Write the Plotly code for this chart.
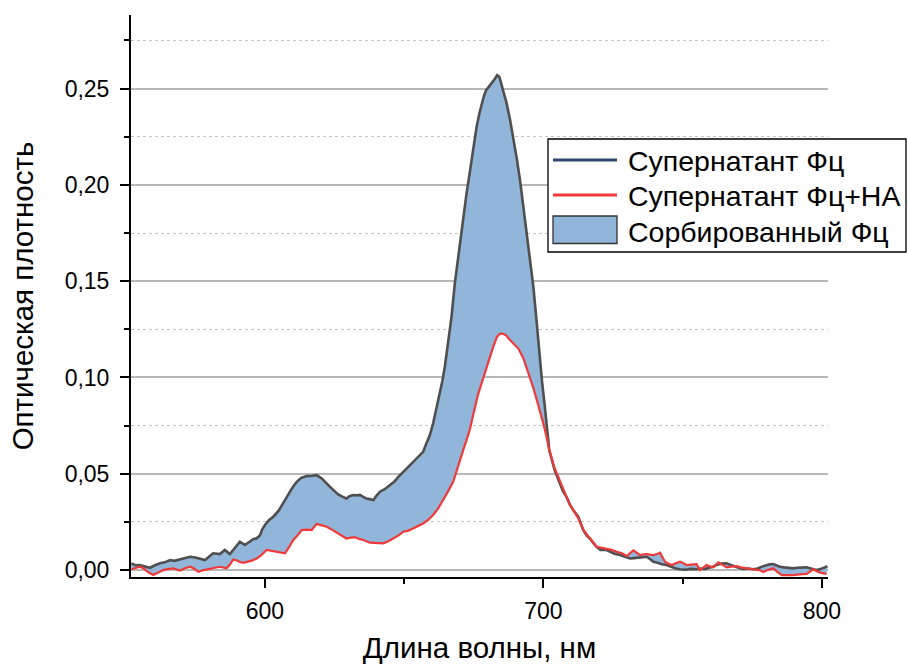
import plotly.graph_objects as go

# Supernatant Fc (dark curve)
wl_fc = [552, 553.5, 555, 557, 558.7, 560.5, 562.3, 564, 565.9, 567.5, 569.5, 571, 573.1, 575, 576.7, 578.5,
         580, 581.4, 583.8, 585.6, 587.4, 589, 591, 592.8, 594.5, 595.8, 597, 598.2, 599, 600, 601.5, 603,
         605, 606.6, 608, 609, 610.2, 611.4, 613, 615, 617, 618.6, 620.4, 622, 623.3, 625, 626.3, 628,
         629.3, 630.5, 631.7, 633, 634.1, 635.3, 636.5, 638, 638.9, 640, 641.3, 643, 644.9, 646.5, 648,
         649.7, 651.5, 653.2, 655, 656.8, 658, 659.2, 660.4, 661.6, 662.8, 663.7, 664.6, 665.8, 667, 668.2,
         669.4, 670.6, 671.5, 672.4, 673.3, 674.2, 675.1, 676, 677, 677.8, 678.6, 679.4, 680.5, 681.5, 682.5,
         683.4, 684.2, 685, 686, 686.8, 688, 689.2, 690.4, 691.6, 692.8, 694, 695.2, 696.4, 697.5, 698.5,
         699.5, 700.5, 701.3, 702.1, 704, 705.9, 707, 708.3, 709.5, 710.7, 712.5, 713.5, 714.3, 715.5,
         716.7, 718, 719.1, 720.5, 722.7, 724, 725.5, 727.5, 729, 731.1, 732.5, 734, 735.5, 737.1, 738.5,
         739.5, 741, 742.5, 744.2, 746, 747.5, 749, 751, 753, 755, 756.5, 758, 759.5, 760.9, 762.5, 764,
         765.7, 767.5, 769, 770.5, 772, 773.5, 775.3, 777, 778.5, 780.1, 781.3, 782.5, 783.7, 784.9,
         786.5, 788, 789.7, 791, 792.5, 794.5, 796, 798.1, 799.5, 801.1, 802]
od_fc = [0.0035, 0.0025, 0.0026, 0.0018, 0.0012, 0.0025, 0.0035, 0.004, 0.0052, 0.0048, 0.0055, 0.006, 0.0069,
         0.0065, 0.006, 0.0052, 0.007, 0.0087, 0.0083, 0.0104, 0.0083, 0.011, 0.0147, 0.013, 0.0145, 0.016,
         0.0165, 0.018, 0.021, 0.0234, 0.026, 0.0277, 0.031, 0.0346, 0.038, 0.0407, 0.0435, 0.0458, 0.0478,
         0.0488, 0.049, 0.0493, 0.0476, 0.0455, 0.0433, 0.041, 0.0393, 0.038, 0.0372, 0.0385, 0.039, 0.0388,
         0.039, 0.038, 0.0372, 0.0367, 0.0363, 0.0385, 0.0407, 0.042, 0.0441, 0.046, 0.0485, 0.051, 0.0535,
         0.056, 0.0588, 0.0614, 0.0658, 0.070, 0.0762, 0.084, 0.0917, 0.098, 0.1056, 0.1177, 0.1315, 0.149,
         0.1627, 0.178, 0.187, 0.1956, 0.204, 0.2129, 0.221, 0.230, 0.237, 0.2423, 0.246, 0.249, 0.251, 0.253,
         0.255, 0.257, 0.256, 0.2518, 0.247, 0.2423, 0.234, 0.225, 0.214, 0.2025, 0.189, 0.1748, 0.161, 0.147,
         0.130, 0.1125, 0.098, 0.085, 0.073, 0.0623, 0.052, 0.045, 0.041, 0.038, 0.034, 0.0312, 0.0277, 0.024,
         0.0208, 0.018, 0.0164, 0.014, 0.0121, 0.0105, 0.0104, 0.0095, 0.0085, 0.0078, 0.007, 0.006, 0.0062,
         0.0065, 0.0068, 0.0069, 0.0055, 0.0043, 0.0038, 0.003, 0.0026, 0.0015, 0.0008, 0.0004, 0.0002,
         0.0006, 0.0004, 0.0008, 0.0005, 0.0012, 0.0017, 0.0028, 0.0034, 0.0035, 0.0025, 0.0015, 0.0009,
         0.0006, 0.0008, 0.0004, 0.0008, 0.0018, 0.0026, 0.003, 0.0031, 0.0025, 0.0017, 0.0014, 0.0012,
         0.0009, 0.0012, 0.0013, 0.0014, 0.0008, 0.0, 0.0005, 0.0014, 0.002]

# Supernatant Fc + NA (red curve)
wl_fc_na = [552, 553.5, 555.1, 556.5, 558, 559.9, 561.5, 563.5, 565, 567.1, 568.5, 569.5, 571, 573.1, 574.5,
            576.1, 578, 580.3, 582, 583.8, 585, 586.2, 587.5, 588.6, 590, 591, 592.2, 594, 595.5, 597, 598.5,
            600.6, 602.5, 604.2, 605.8, 607.2, 608.7, 610.2, 611.7, 613.2, 615, 616.8, 617.7, 618.6, 620.4,
            622.2, 624, 625.7, 627.5, 629.3, 630.8, 632.3, 633.8, 635.3, 637.7, 640, 642.5, 644.3, 646.1, 648,
            649.7, 651.5, 653.2, 655, 656.8, 658.6, 660.4, 662.2, 664, 665.8, 667.6, 669, 670, 671.2, 672.5,
            673.6, 675, 676.5, 677.8, 679.3, 680.8, 682, 683.3, 684.2, 685, 686.5, 688, 689.5, 691, 692.8, 694,
            695.2, 696.5, 697.7, 698.7, 700, 701, 702.1, 704, 705.9, 707, 708.3, 709.5, 710.7, 712.5, 713.5,
            714.3, 716.7, 719.1, 721, 722.7, 724.5, 726.3, 728, 729.9, 731, 732.3, 733.5, 734.7, 736, 737.1,
            738.3, 739.5, 741, 741.9, 743, 743.7, 745, 746.1, 747.5, 749.1, 750.3, 751.4, 753, 755, 756.2,
            757.5, 758.6, 760, 761, 762.8, 764.3, 765.8, 767.5, 769.4, 771, 773, 775, 776.6, 778, 779, 780.5,
            782.6, 784, 785.6, 787.5, 789.7, 792, 794.5, 796, 796.9, 798, 799.4, 801.7]
od_fc_na = [0.0004, 0.0012, 0.0017, 0.0008, -0.001, -0.0026, -0.0015, 0.0, 0.0005, 0.0009, 0.0002, -0.0003,
            0.0008, 0.0017, 0.0008, -0.0009, 0.0, 0.0009, 0.0012, 0.0017, 0.0012, 0.0009, 0.003, 0.0055, 0.005,
            0.0042, 0.0038, 0.0045, 0.005, 0.006, 0.0075, 0.0104, 0.0098, 0.0095, 0.009, 0.0087, 0.012, 0.0156,
            0.018, 0.0208, 0.021, 0.0208, 0.0225, 0.0239, 0.0232, 0.0225, 0.021, 0.0194, 0.018, 0.0164, 0.0168,
            0.017, 0.0162, 0.0156, 0.0142, 0.014, 0.0139, 0.015, 0.0164, 0.018, 0.0199, 0.0205, 0.0216, 0.0228,
            0.0242, 0.026, 0.0286, 0.032, 0.0363, 0.041, 0.0458, 0.0525, 0.0575, 0.0623, 0.068, 0.073, 0.082,
            0.091, 0.097, 0.104, 0.110, 0.116, 0.121, 0.1225, 0.1229, 0.122, 0.1194, 0.117, 0.115, 0.11, 0.105,
            0.1, 0.094, 0.088, 0.083, 0.076, 0.07, 0.0623, 0.053, 0.046, 0.042, 0.038, 0.034, 0.031, 0.027,
            0.0235, 0.021, 0.0164, 0.0121, 0.0115, 0.011, 0.0105, 0.0095, 0.0088, 0.0073, 0.0085, 0.0102, 0.009,
            0.0078, 0.0082, 0.0083, 0.008, 0.0078, 0.0085, 0.009, 0.006, 0.0043, 0.0032, 0.0026, 0.0035, 0.0043,
            0.0035, 0.0026, 0.0028, 0.0031, 0.0, 0.0015, 0.0026, 0.0018, 0.0014, 0.004, 0.0025, 0.0014, 0.0018,
            0.002, 0.0014, 0.0009, 0.0006, 0.0004, -0.0002, -0.001, 0.0, 0.0009, -0.001, -0.0026, -0.0026,
            -0.0026, -0.0022, -0.002, -0.0005, 0.0004, -0.0005, -0.0013, -0.002]

y_ticks = [0.0, 0.05, 0.10, 0.15, 0.20, 0.25]
x_ticks = [600, 700, 800]

names = ["Супернатант Фц", "Супернатант Фц+НА", "Сорбированный Фц"]

FILL = "#92B5DA"
DARK = "#4f4f4f"
RED = "#F03A3A"
NAVY = "#2c4a6c"
FONT = "Liberation Sans, Arial, sans-serif"

W, H = 908, 664
ML, MR, MT, MB = 131, 80, 15, 87
PW, PH = W - ML - MR, H - MT - MB


def px(xp):
    return (xp - ML) / PW


def py(yp):
    return (H - MB - yp) / PH


fig = go.Figure()
# fill region between curves
fig.add_trace(go.Scatter(x=wl_fc_na, y=od_fc_na, mode="lines", line=dict(width=0, color=RED),
                         showlegend=False, hoverinfo="skip"))
fig.add_trace(go.Scatter(x=wl_fc, y=od_fc, mode="lines", line=dict(width=0, color=DARK),
                         fill="tonexty", fillcolor=FILL, showlegend=False, hoverinfo="skip"))
# lines on top
fig.add_trace(go.Scatter(x=wl_fc, y=od_fc, mode="lines", line=dict(width=2.6, color=DARK),
                         name=names[0], showlegend=False))
fig.add_trace(go.Scatter(x=wl_fc_na, y=od_fc_na, mode="lines", line=dict(width=2.2, color=RED),
                         name=names[1], showlegend=False))

# legend drawn as shapes + text
shapes = [
    dict(type="rect", xref="paper", yref="paper", x0=px(548), x1=px(906), y0=py(252), y1=py(139),
         line=dict(color="black", width=1.3), fillcolor="white", layer="above"),
    dict(type="line", xref="paper", yref="paper", x0=px(553), x1=px(617), y0=py(160), y1=py(160),
         line=dict(color=NAVY, width=3), layer="above"),
    dict(type="line", xref="paper", yref="paper", x0=px(553), x1=px(617), y0=py(195), y1=py(195),
         line=dict(color=RED, width=3), layer="above"),
    dict(type="rect", xref="paper", yref="paper", x0=px(553), x1=px(617), y0=py(243.5), y1=py(216),
         line=dict(color="#333333", width=1.3), fillcolor=FILL, layer="above"),
]
annotations = []
for name, yc in zip(names, [161, 196, 232]):
    annotations.append(dict(text=name, xref="paper", yref="paper", x=px(626), y=py(yc),
                            xanchor="left", yanchor="middle", showarrow=False,
                            font=dict(family=FONT, size=28.5, color="black")))

fig.update_layout(
    width=W, height=H,
    margin=dict(l=ML, r=MR, t=MT, b=MB, autoexpand=False),
    paper_bgcolor="white", plot_bgcolor="white",
    separators=", ",
    font=dict(family=FONT, size=23, color="black"),
    showlegend=False,
    shapes=shapes,
    annotations=annotations,
)

fig.update_xaxes(
    range=[551.9, 802.2], tickvals=x_ticks, ticktext=[str(v) for v in x_ticks],
    showline=True, linecolor="black", linewidth=2, mirror=False, automargin=False,
    ticks="outside", ticklen=9, tickwidth=1.5, tickcolor="black", ticklabelstandoff=3,
    showgrid=False, zeroline=False,
    minor=dict(tickvals=[650, 750], ticks="outside", ticklen=5, tickwidth=1.5, tickcolor="black", showgrid=False),
    title=dict(text="Длина волны, нм", font=dict(family=FONT, size=29.5), standoff=22),
    tickfont=dict(family=FONT, size=23),
)

fig.update_yaxes(
    range=[-0.0036, 0.2882], tickvals=y_ticks, tickformat=".2f",
    showline=True, linecolor="black", linewidth=2, automargin=False,
    ticks="outside", ticklen=9, tickwidth=1.5, tickcolor="black", ticklabelstandoff=6,
    showgrid=True, gridcolor="#b8b8b8", gridwidth=1.5, zeroline=False,
    minor=dict(dtick=0.025, tick0=0, ticks="outside", ticklen=5, tickwidth=1.5, tickcolor="black",
               showgrid=True, gridcolor="#c4c4c4", griddash="dot", gridwidth=1),
    title=dict(text="Оптическая плотность", font=dict(family=FONT, size=29.5), standoff=22),
    tickfont=dict(family=FONT, size=23),
)

fig.write_html("out.html")
